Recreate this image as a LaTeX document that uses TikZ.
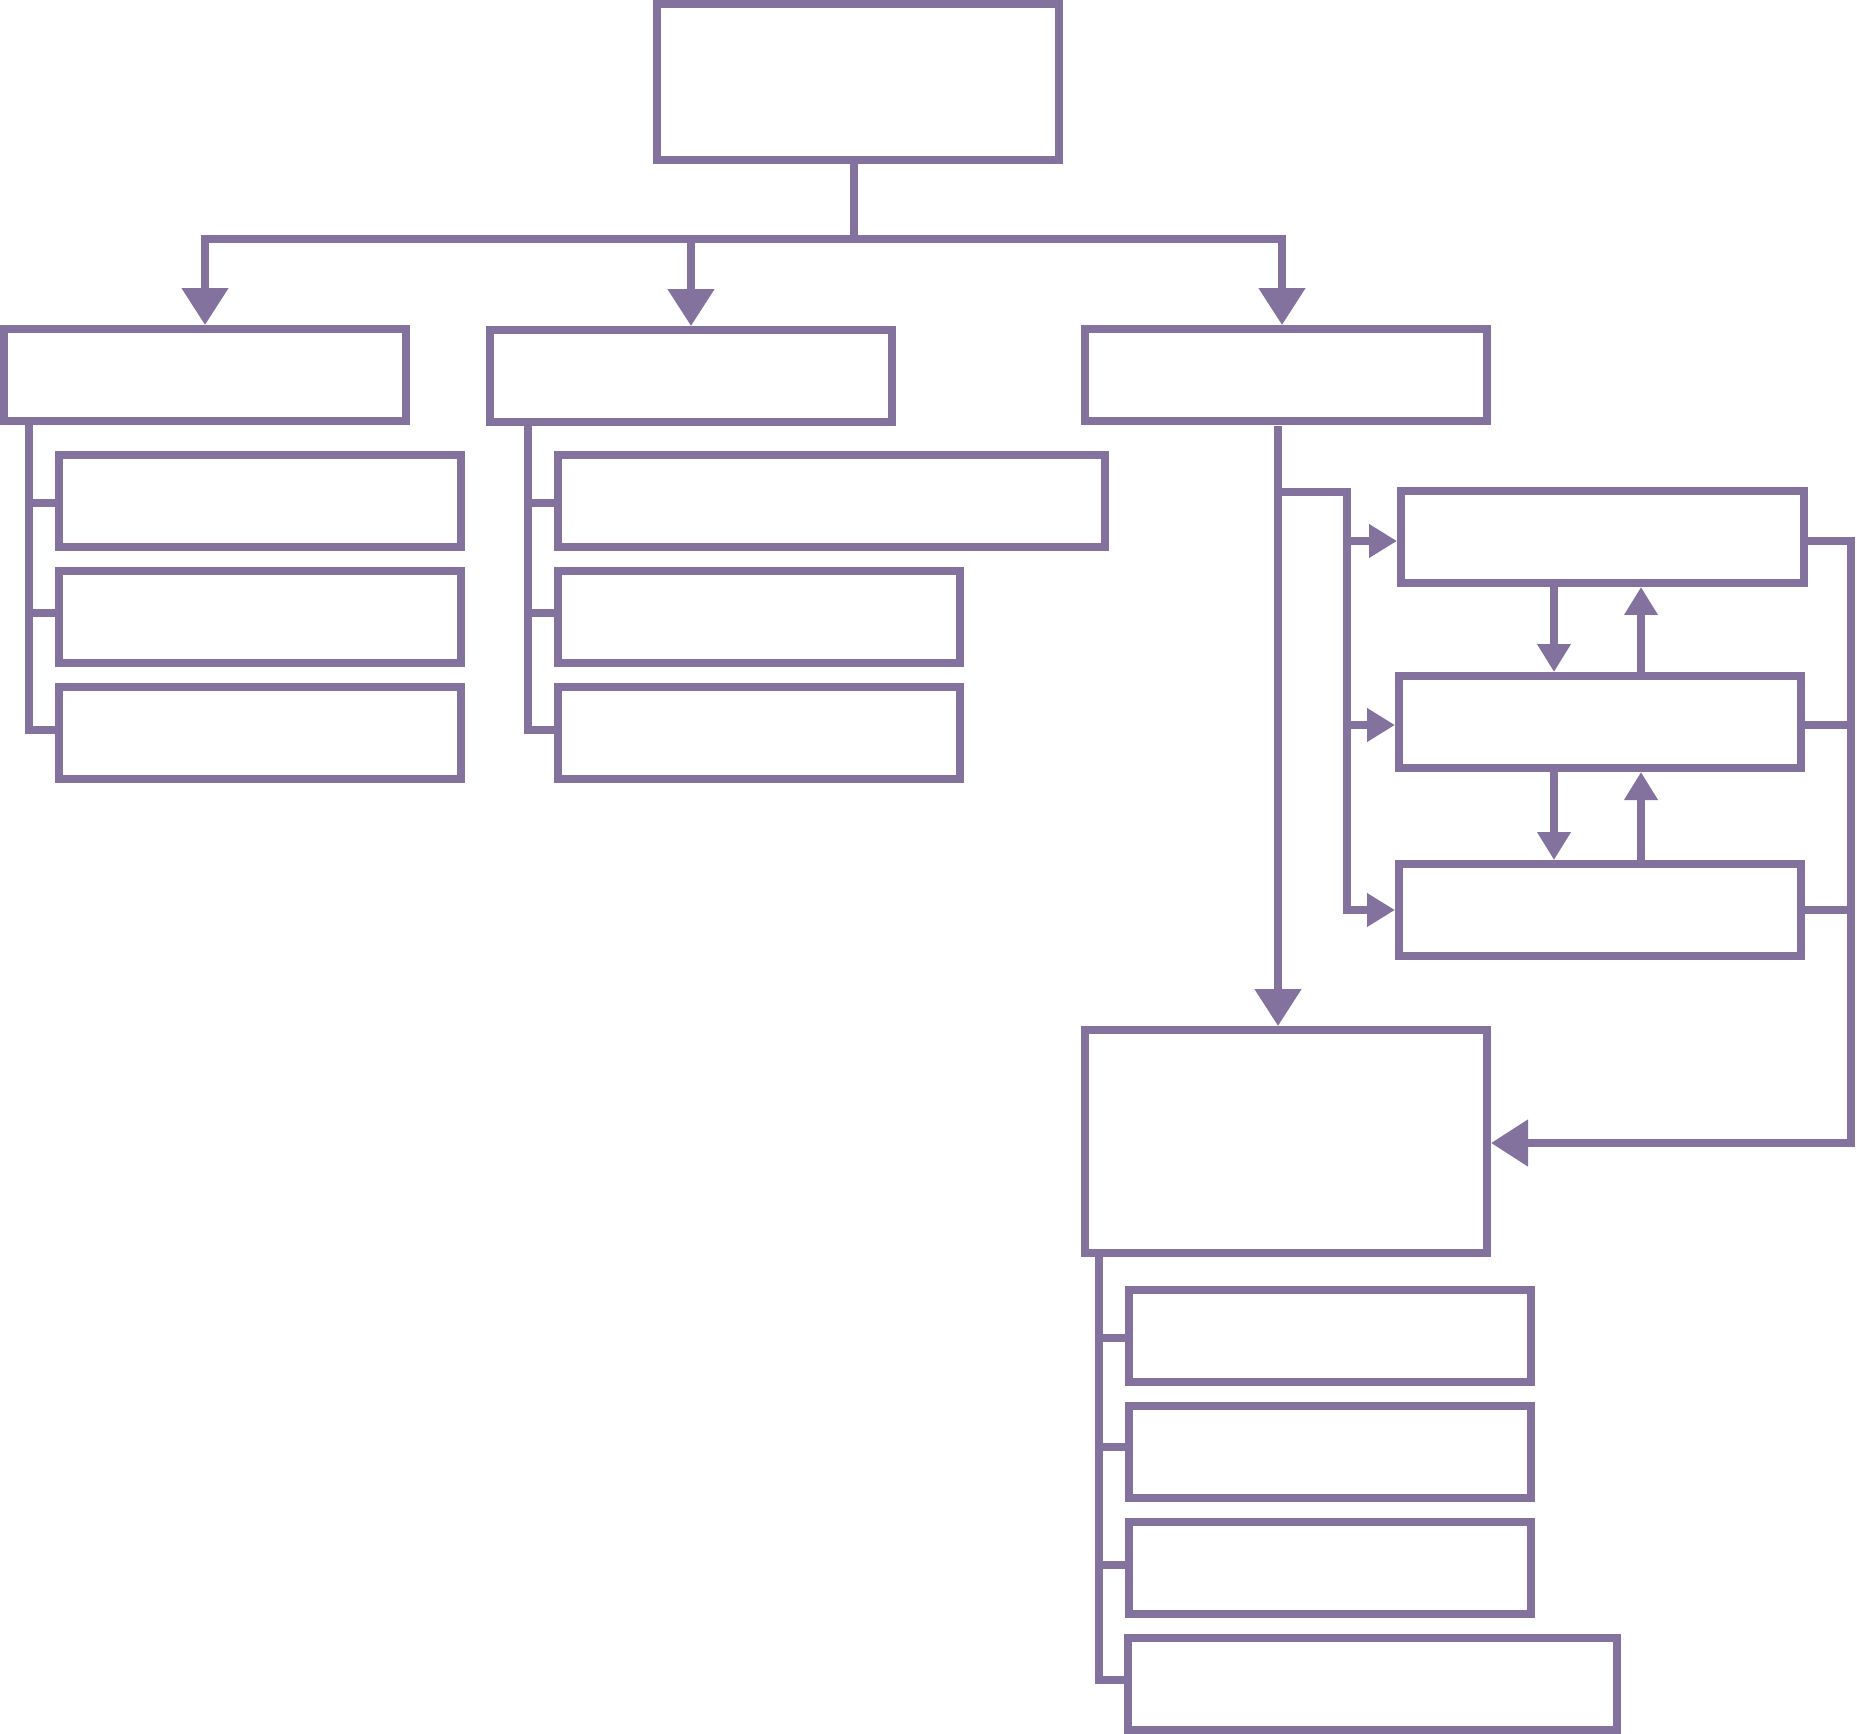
\documentclass[tikz,border=0pt]{standalone}
\usetikzlibrary{arrows.meta}
\definecolor{pu}{RGB}{132,114,158}
\newcommand{\mkbox}[5]{\node[bx, minimum width={(#4-#2)*0.02cm}, minimum height={(#5-#3)*0.02cm}] (#1) at ({(#2+#4)/2},{(#3+#5)/2}) {};}
\begin{document}
\begin{tikzpicture}[x=0.02cm,y=-0.02cm,
  ln/.style={draw=pu,line width=0.16cm},
  arr/.style={ln,-{Triangle[length=0.74cm,width=0.9cm]}},
  sarr/.style={ln,-{Triangle[length=0.56cm,width=0.64cm]}},
  bx/.style={draw=pu,line width=0.16cm,fill=white,rectangle,inner sep=0pt,outer sep=0.08cm}]
\fill[white] (0,0) rectangle (1857,1734);
\useasboundingbox (0,0) rectangle (1857,1734);
% boxes
\mkbox{top}{657}{4}{1059}{160}
\mkbox{A}{4}{329}{406}{421}
\mkbox{B}{490}{330}{892}{422}
\mkbox{C}{1085}{329}{1487}{421}
\mkbox{A1}{59}{455}{461}{547}
\mkbox{A2}{59}{571}{461}{663}
\mkbox{A3}{59}{687}{461}{779}
\mkbox{B1}{558}{455}{1105}{547}
\mkbox{B2}{558}{571}{960}{663}
\mkbox{B3}{558}{687}{960}{779}
\mkbox{R1}{1401}{491}{1804}{583}
\mkbox{R2}{1399}{676}{1801}{768}
\mkbox{R3}{1399}{864}{1801}{956}
\mkbox{D}{1085}{1030}{1487}{1253}
\mkbox{D1}{1129}{1290}{1531}{1382}
\mkbox{D2}{1129}{1406}{1531}{1498}
\mkbox{D3}{1129}{1522}{1531}{1614}
\mkbox{D4}{1128}{1638}{1617}{1730}
% stub levels
\coordinate (s1) at (0,503);
\coordinate (s2) at (0,613);
\coordinate (s3) at (0,730);
\coordinate (d1) at (0,1338);
\coordinate (d2) at (0,1447);
\coordinate (d3) at (0,1565);
\coordinate (d4) at (0,1680);
% top bus
\coordinate (bus) at (854,239);
\path (C.north) ++(-4,0) coordinate (cCn);
\draw[ln] (bus |- top.south) -- (bus);
\draw[arr] (bus) -| (A.north);
\draw[arr] (bus) -| (cCn);
\draw[arr] (B.north |- bus) -- (B.north);
% A trunk
\path (A.south west) ++(29,0) coordinate (ta);
\draw[ln] (ta) |- (A3.west |- s3);
\draw[ln] (ta |- s1) -- (A1.west |- s1);
\draw[ln] (ta |- s2) -- (A2.west |- s2);
% B trunk
\path (B.south west) ++(42,0) coordinate (tb);
\draw[ln] (tb) |- (B3.west |- s3);
\draw[ln] (tb |- s1) -- (B1.west |- s1);
\draw[ln] (tb |- s2) -- (B2.west |- s2);
% C branch
\coordinate (cv) at (1278,426);
\draw[arr] (cv) -- (cv |- D.north);
\coordinate (br) at (1347,492);
\coordinate (y1) at (0,541);
\coordinate (y2) at (0,725);
\coordinate (y3) at (0,910);
\draw[sarr] (cv |- br) -- (br) |- (R3.west |- y3);
\draw[sarr] (br |- y1) -- (R1.west |- y1);
\draw[sarr] (br |- y2) -- (R2.west |- y2);
% arrows between R boxes
\coordinate (xd) at (1554,0);
\coordinate (xu) at (1641,0);
\draw[sarr] (R1.south -| xd) -- (R2.north -| xd);
\draw[sarr] (R2.north -| xu) -- (R1.south -| xu);
\draw[sarr] (R2.south -| xd) -- (R3.north -| xd);
\draw[sarr] (R3.north -| xu) -- (R2.south -| xu);
% right bus
\coordinate (rb) at (1851,1143);
\draw[arr] (R1.east |- y1) -| (rb) -- (D.east |- rb);
\draw[ln] (R2.east |- y2) -- (rb |- y2);
\draw[ln] (R3.east |- y3) -- (rb |- y3);
% D trunk
\path (D.south west) ++(18,0) coordinate (td);
\draw[ln] (td) |- (D4.west |- d4);
\draw[ln] (td |- d1) -- (D1.west |- d1);
\draw[ln] (td |- d2) -- (D2.west |- d2);
\draw[ln] (td |- d3) -- (D3.west |- d3);
\end{tikzpicture}
\end{document}
